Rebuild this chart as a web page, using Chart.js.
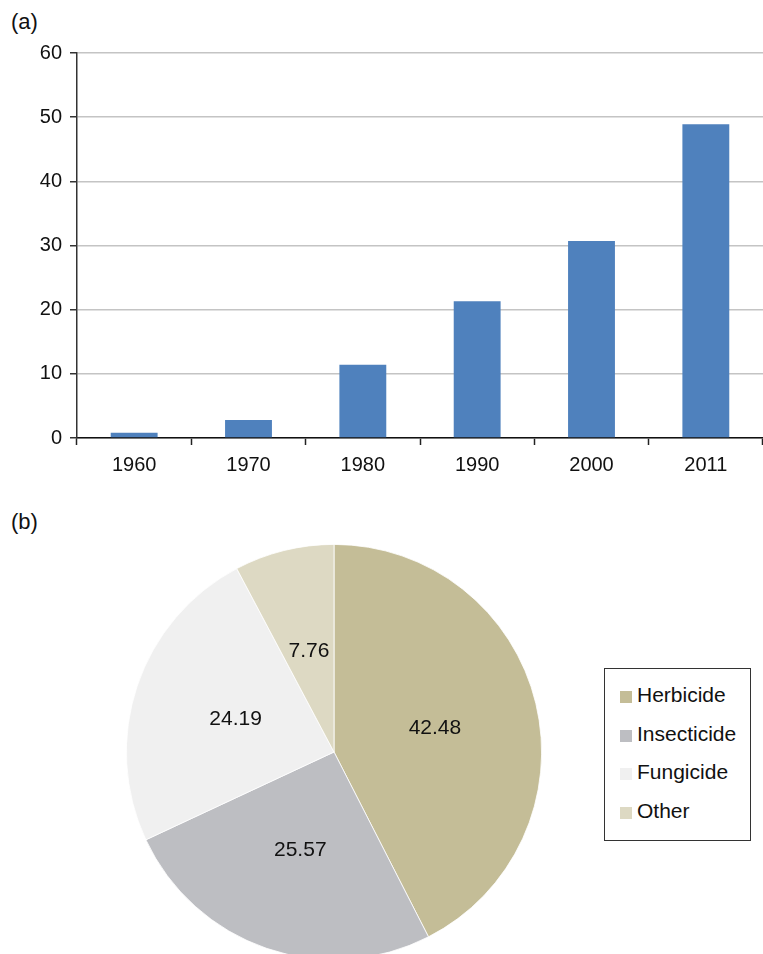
<!DOCTYPE html>
<html>
<head>
<meta charset="utf-8">
<script src="https://cdn.jsdelivr.net/npm/chart.js@4"></script>
<style>
  html, body { margin: 0; padding: 0; background: #fff; overflow: hidden; }
  body { width: 763px; height: 954px; position: relative; font-family: "Liberation Sans", Arial, Helvetica, sans-serif; color: #111; }
  .tag { position: absolute; left: 11px; font-size: 22px; }
  #barBox { position: absolute; left: 0; top: 0; width: 763px; height: 500px; }
  #pieBox { position: absolute; left: 126px; top: 544px; width: 416px; height: 416px; }
  #legend { position: absolute; left: 604px; top: 668px; width: 145px; height: 164px; border: 1px solid #333; padding-top: 7px; box-sizing: content-box; }
  #legend div { height: 38.5px; line-height: 38.5px; font-size: 21px; padding-left: 15px; white-space: nowrap; }
  #legend span { display: inline-block; width: 12px; height: 12px; margin-right: 5px; vertical-align: -1px; }
</style>
</head>
<body>
<div class="tag" style="top:9px">(a)</div>
<div class="tag" style="top:509px">(b)</div>
<div id="barBox"><canvas id="barChart"></canvas></div>
<div id="pieBox"><canvas id="pieChart"></canvas></div>
<div id="legend"></div>
<script>
// panel (a)
const years = ['1960', '1970', '1980', '1990', '2000', '2011'];
const amounts = [0.8, 2.8, 11.4, 21.3, 30.7, 48.9];
const yTicks = [0, 10, 20, 30, 40, 50, 60];

// panel (b)
const types = ['Herbicide', 'Insecticide', 'Fungicide', 'Other'];
const shares = [42.48, 25.57, 24.19, 7.76];
const typeColors = ['#c4bd97', '#bdbec2', '#f0f0f0', '#ddd9c3'];

const fontFam = '"Liberation Sans", Arial, Helvetica, sans-serif';
Chart.defaults.font.family = fontFam;
Chart.defaults.color = '#111';

new Chart(document.getElementById('barChart'), {
    type: 'bar',
    data: {
        labels: years,
        datasets: [{
            data: amounts,
            backgroundColor: '#4f81bd',
            barPercentage: 0.41,
            categoryPercentage: 1
        }]
    },
    options: {
        responsive: true,
        maintainAspectRatio: false,
        animation: false,
        layout: { padding: { top: 53, right: 0, left: 0, bottom: 0 } },
        plugins: { legend: { display: false }, tooltip: { enabled: false } },
        scales: {
            x: {
                offset: true,
                grid: { display: true, drawOnChartArea: false, offset: true, tickLength: 7, tickColor: '#222', tickWidth: 1.5 },
                border: { color: '#111', width: 1.5 },
                ticks: { font: { size: 20 }, padding: 8, color: '#111' },
                afterFit: (s) => { s.height = 62; }
            },
            y: {
                min: 0,
                max: 60,
                afterBuildTicks: (s) => { s.ticks = yTicks.map(v => ({ value: v })); },
                grid: { color: '#c4c4c4', lineWidth: 1.5, tickLength: 7, tickColor: '#333', tickWidth: 1.5 },
                border: { color: '#333', width: 1.5 },
                ticks: { font: { size: 20 }, padding: 8, color: '#111' },
                afterFit: (s) => { s.width = 77; }
            }
        }
    }
});

const sliceLabels = {
    id: 'sliceLabels',
    afterDatasetsDraw(chart) {
        const ctx = chart.ctx;
        const meta = chart.getDatasetMeta(0);
        ctx.save();
        ctx.font = '21px ' + fontFam;
        ctx.fillStyle = '#111';
        ctx.textAlign = 'center';
        ctx.textBaseline = 'middle';
        meta.data.forEach((arc, i) => {
            const p = arc.tooltipPosition();
            ctx.fillText(shares[i].toFixed(2), p.x, p.y);
        });
        ctx.restore();
    }
};

new Chart(document.getElementById('pieChart'), {
    type: 'pie',
    data: {
        labels: types,
        datasets: [{
            data: shares,
            backgroundColor: typeColors,
            borderColor: '#ffffff',
            borderWidth: 0.8
        }]
    },
    options: {
        responsive: true,
        maintainAspectRatio: false,
        animation: false,
        layout: { padding: 0 },
        plugins: { legend: { display: false }, tooltip: { enabled: false } }
    },
    plugins: [sliceLabels]
});

const legend = document.getElementById('legend');
types.forEach((t, i) => {
    const row = document.createElement('div');
    const sw = document.createElement('span');
    sw.style.background = typeColors[i];
    row.appendChild(sw);
    row.appendChild(document.createTextNode(t));
    legend.appendChild(row);
});
</script>
</body>
</html>
